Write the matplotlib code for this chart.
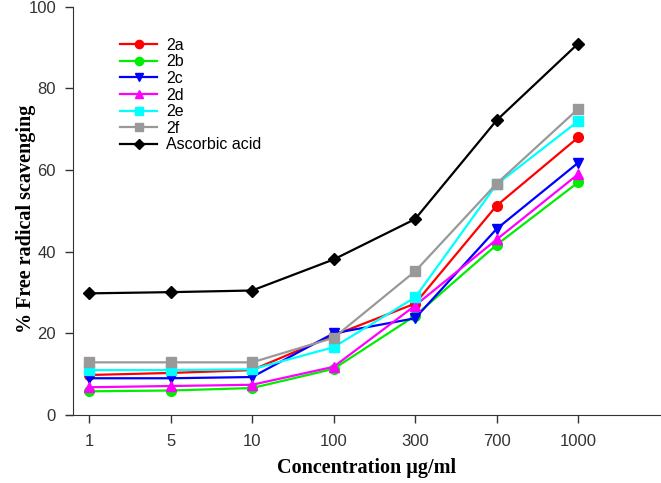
import numpy as np
import matplotlib.pyplot as plt

# concentrations (categorical x axis)
conc = ['1', '5', '10', '100', '300', '700', '1000']

s2a = [9.8, 10.3, 11.0, 19.5, 27.3, 51.3, 68.0]
s2b = [5.8, 6.0, 6.6, 11.3, 24.3, 41.7, 57.0]
s2c = [9.0, 9.0, 9.3, 20.0, 23.7, 45.6, 61.8]
s2d = [6.8, 7.1, 7.4, 11.8, 26.8, 43.0, 59.0]
s2e = [11.0, 11.0, 11.2, 16.6, 28.8, 56.5, 72.0]
s2f = [12.9, 12.9, 12.9, 18.9, 35.2, 56.7, 75.0]
ascorbic = [29.8, 30.1, 30.5, 38.1, 48.0, 72.2, 91.0]

series = [('2a', s2a, 'red', 'o'),
          ('2b', s2b, '#00ee00', 'o'),
          ('2c', s2c, 'blue', 'v'),
          ('2d', s2d, 'magenta', '^'),
          ('2e', s2e, 'cyan', 's'),
          ('2f', s2f, '#999999', 's'),
          ('Ascorbic acid', ascorbic, 'black', 'D')]

plt.rcParams['font.family'] = ['Liberation Sans', 'DejaVu Sans']

fig = plt.figure(figsize=(6.61, 4.83), dpi=100)
ax = fig.add_axes([0.110, 0.1408, 0.888, 0.845])

x = np.arange(1, len(conc) + 1)
for name, vals, col, mk in series:
    ms = 6 if mk == 'D' else 7
    ax.plot(x, vals, color=col, marker=mk, markersize=ms, lw=1.6, label=name)

ax.set_xlim(0.8, 8.0)
ax.set_ylim(0, 100)
ax.set_xticks(x)
ax.set_xticklabels(conc)
ax.set_yticks(np.arange(0, 101, 20))
for side in ('top', 'right'):
    ax.spines[side].set_visible(False)
for side in ('left', 'bottom'):
    ax.spines[side].set_color('#333333')
ax.spines['bottom'].set_bounds(0.72, 8.0)
ax.tick_params(direction='out', length=6, width=1, colors='#333333',
               labelsize=12, labelcolor='#333333')
ax.tick_params(axis='x', pad=8)
ax.tick_params(axis='y', pad=6)

ax.set_xlabel('Concentration µg/ml', family='Liberation Serif',
              fontweight='bold', fontsize=14.5)
ax.xaxis.set_label_coords(0.5, -0.105)
ax.set_ylabel('% Free radical scavenging', family='Liberation Serif',
              fontweight='bold', fontsize=14.5)
ax.yaxis.set_label_coords(-0.063, 0.48)

ax.legend(loc='upper left', bbox_to_anchor=(0.081, 0.924), frameon=False,
          fontsize=11.5, handlelength=2.3, labelspacing=0.1,
          handletextpad=0.55, borderpad=0, borderaxespad=0, markerscale=0.85)

fig.savefig('out.png', dpi=100)
